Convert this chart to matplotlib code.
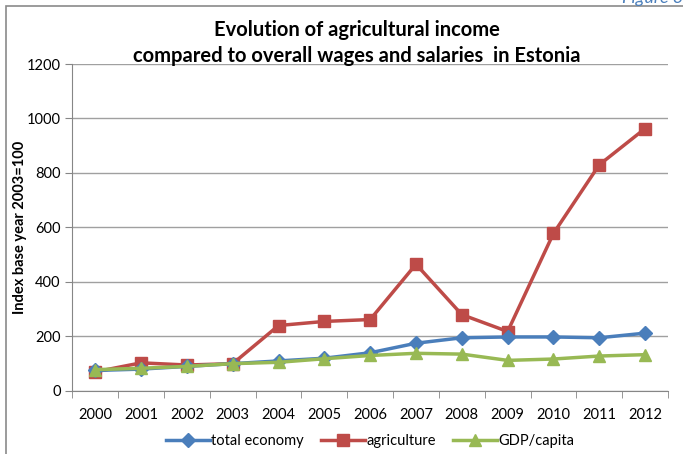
import matplotlib.pyplot as plt
from matplotlib.patches import Rectangle

years = ['2000', '2001', '2002', '2003', '2004', '2005', '2006',
         '2007', '2008', '2009', '2010', '2011', '2012']
total_economy = [75, 80, 90, 100, 110, 120, 140, 175, 195, 198, 198, 195, 212]
agriculture = [70, 103, 95, 100, 240, 255, 262, 465, 280, 218, 578, 830, 963]
gdp_capita = [78, 83, 90, 100, 105, 118, 130, 138, 135, 112, 117, 128, 133]

plt.rcParams['font.family'] = ['Lato', 'DejaVu Sans']

fig = plt.figure(figsize=(6.83, 4.54), dpi=100)
ax = fig.add_axes([0.106, 0.139, 0.872, 0.72])

x = list(range(len(years)))
ax.plot(x, total_economy, color='#4a7ebb', lw=2.5, marker='D', ms=7,
        label='total economy', zorder=3)
ax.plot(x, agriculture, color='#be4b48', lw=2.5, marker='s', ms=9,
        label='agriculture', zorder=2)
ax.plot(x, gdp_capita, color='#98b954', lw=2.5, marker='^', ms=9,
        label='GDP/capita', zorder=4)

ax.set_ylim(0, 1200)
ax.set_yticks(range(0, 1201, 200))
ax.set_xlim(-0.5, len(years) - 0.5)
ax.set_xticks(x)
ax.set_xticklabels(years)
ax.set_xticks([i - 0.5 for i in range(len(years) + 1)], minor=True)
ax.tick_params(axis='x', which='major', length=0, pad=12, labelsize=10.5)
ax.tick_params(axis='x', which='minor', length=5, color='#868686')
ax.tick_params(axis='y', length=5, color='#868686', labelsize=10.5)
ax.grid(axis='y', color='#a0a0a0', lw=1)
ax.set_axisbelow(True)
for s in ['top', 'right']:
    ax.spines[s].set_visible(False)
for s in ['left', 'bottom']:
    ax.spines[s].set_color('#868686')

ax.set_ylabel('Index base year 2003=100', fontsize=10.5, fontweight='bold', labelpad=0)

fig.text(0.523, 0.905, 'Evolution of agricultural income\ncompared to overall wages and salaries  in Estonia',
         ha='center', va='center', fontsize=14.5, fontweight='bold', linespacing=1.35)
fig.text(1.0, 1.005, 'Figure 3', ha='right', va='center', fontsize=13,
         style='italic', color='#4a7ebb')

ax.legend(loc='center', bbox_to_anchor=(0.5, -0.153), ncol=3, frameon=False,
          fontsize=10.5, handlelength=3, columnspacing=1.2, handletextpad=0.1)

fig.patches.append(Rectangle((6 / 683, -0.1), 1.1, 1 - 6 / 454 + 0.1,
                             transform=fig.transFigure, fill=False,
                             edgecolor='#8a8a8a', lw=1.2))

plt.savefig('out.png', dpi=100)
